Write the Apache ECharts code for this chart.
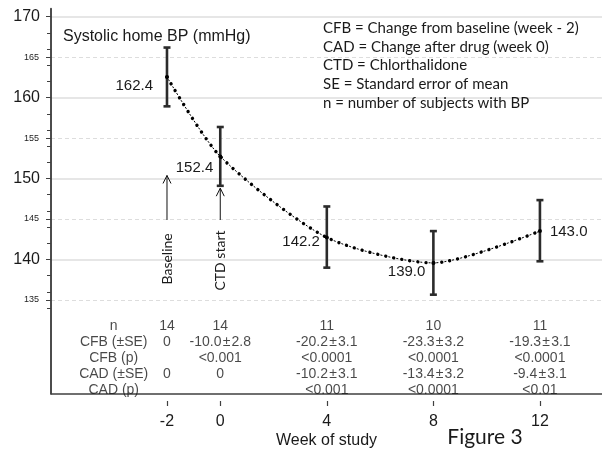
<!DOCTYPE html>
<html><head><meta charset="utf-8">
<script src="https://cdn.jsdelivr.net/npm/echarts@6.0.0/dist/echarts.min.js"></script>
<style>html,body{margin:0;padding:0;background:#fff}#c{width:602px;height:454px}</style>
</head><body><div id="c"></div>
<script>
// ---- data ----
const weeks = [-2, 0, 4, 8, 12];
const meanBP = [162.4, 152.4, 142.2, 139.0, 143.0];
const errLow = [158.7, 148.7, 138.4, 135.0, 139.2];
const errHigh = [166.1, 156.1, 146.1, 143.0, 146.9];
const xTickLabels = ['-2', '0', '4', '8', '12'];
const yMajorTicks = [140, 150, 160, 170];
const yMinorTicks = [135, 145, 155, 165];
const rowLabels = ['n', 'CFB (±SE)', 'CFB (p)', 'CAD (±SE)', 'CAD (p)'];
const nRow = ['14', '14', '11', '10', '11'];
const cfbSE = ['0', '-10.0\u200A±\u200A2.8', '-20.2\u200A±\u200A3.1', '-23.3\u200A±\u200A3.2', '-19.3\u200A±\u200A3.1'];
const cfbP = ['', '<0.001', '<0.0001', '<0.0001', '<0.0001'];
const cadSE = ['0', '0', '-10.2\u200A±\u200A3.1', '-13.4\u200A±\u200A3.2', '-9.4\u200A±\u200A3.1'];
const cadP = ['', '', '<0.001', '<0.0001', '<0.01'];
const legendLines = ['CFB = Change from baseline (week - 2)', 'CAD = Change after drug (week 0)', 'CTD = Chlorthalidone', 'SE = Standard error of mean', 'n = number of subjects with BP'];
const titleText = 'Systolic home BP (mmHg)';
const xName = 'Week of study';
const figureText = 'Figure 3';
const arrows = [{week: -2, tip: 150.0, tail: 144.4, text: 'Baseline', textAt: 139.5},
                {week: 0, tip: 148.4, tail: 144.4, text: 'CTD start', textAt: 139.3}];

// ---- layout ----
const L = 51, W = 602, H = 454;
const plotTop = 8.6, plotBottom = 401;
const yMin = 122.5, yMax = 171;
const xMin = -6.354, xMax = 14.33;
const k = (plotBottom - plotTop) / (yMax - yMin);
const py = v => plotTop + (yMax - v) * k;
const kx = (W - L) / (xMax - xMin);
const px = v => L + (v - xMin) * kx;
const vgrid = (a, b) => ({left: L, right: 0, top: py(b), height: py(a) - py(b)});
const rowLabelWeek = -4;
const labelPlace = [
  {position: 'left', distance: 12, offset: [0, 9]},
  {position: 'left', distance: 5, offset: [0, 11]},
  {position: 'left', distance: 5, offset: [0, 4.5]},
  {position: 'left', distance: 6, offset: [0, 9]},
  {position: 'right', distance: 8, offset: [0, 0.5]}
];
const AX = '#404040';
const hiddenX = i => ({type: 'value', gridIndex: i, min: xMin, max: xMax, show: false});

const xCats = [];
for (let w = weeks[0]; w <= weeks[weeks.length - 1]; w++) xCats.push(String(w));
const showTick = (idx, val) => xTickLabels.indexOf(String(val)) >= 0;

const tableRows = [nRow, cfbSE, cfbP, cadSE, cadP];
const tableData = [];
rowLabels.forEach((r, i) => tableData.push({value: [rowLabelWeek, i], text: r}));
tableRows.forEach((row, i) => row.forEach((t, j) => { if (t) tableData.push({value: [weeks[j], i], text: t}); }));

const chart = echarts.init(document.getElementById('c'), null, {renderer: 'canvas'});
const FONT = 'Liberation Sans, Arial, sans-serif';
const CAL = 'Lato, Carlito, sans-serif';

const option = {
  backgroundColor: '#fff',
  animation: false,
  textStyle: {fontFamily: FONT},
  title: {text: titleText, left: 58, top: 24, textStyle: {fontSize: 16, fontWeight: 'normal', color: '#1a1a1a', fontFamily: FONT}},
  grid: [
    {left: L, right: 0, top: plotTop, bottom: H - plotBottom},
    vgrid(134, 170),
    vgrid(yMajorTicks[0], yMajorTicks[yMajorTicks.length - 1]),
    vgrid(yMinorTicks[0], yMinorTicks[yMinorTicks.length - 1]),
    {left: px(weeks[0]), width: px(weeks[weeks.length - 1]) - px(weeks[0]), top: plotBottom - 10, height: 10},
    {left: L, right: 0, top: 318, height: 80}
  ],
  xAxis: [
    {type: 'value', gridIndex: 0, min: xMin, max: xMax, axisLine: {show: true, onZero: false, lineStyle: {color: AX, width: 1.5}},
     axisTick: {show: false}, axisLabel: {show: false}, splitLine: {show: false},
     name: xName, nameLocation: 'middle', nameGap: 39, nameTextStyle: {fontSize: 16, color: '#1a1a1a', fontFamily: FONT}},
    hiddenX(1), hiddenX(2), hiddenX(3),
    {type: 'category', gridIndex: 4, data: xCats, boundaryGap: false, axisLine: {show: false},
     axisTick: {show: true, interval: showTick, length: 5, lineStyle: {color: AX, width: 1.2}},
     axisLabel: {interval: showTick, fontSize: 16, color: '#1a1a1a', margin: 13, fontFamily: FONT}},
    hiddenX(5)
  ],
  yAxis: [
    {type: 'value', gridIndex: 0, position: 'left', min: yMin, max: yMax, axisLine: {show: true, onZero: false, lineStyle: {color: AX, width: 1.5}},
     axisTick: {show: false}, axisLabel: {show: false}, splitLine: {show: false}},
    {type: 'value', gridIndex: 1, min: 134, max: 170, interval: 2, axisLine: {show: false, onZero: false},
     axisTick: {show: true, length: 4, lineStyle: {color: AX, width: 1}}, axisLabel: {show: false}, splitLine: {show: false}},
    {type: 'value', gridIndex: 2, min: yMajorTicks[0], max: yMajorTicks[yMajorTicks.length - 1], interval: 10, axisLine: {show: false, onZero: false},
     axisTick: {show: true, length: 5, lineStyle: {color: AX, width: 1}},
     axisLabel: {fontSize: 16, color: '#1a1a1a', margin: 11, fontFamily: FONT},
     splitLine: {show: true, lineStyle: {color: '#e6e6e6', width: 2}}},
    {type: 'value', gridIndex: 3, min: yMinorTicks[0], max: yMinorTicks[yMinorTicks.length - 1], interval: 10, axisLine: {show: false, onZero: false},
     axisTick: {show: true, length: 5, lineStyle: {color: AX, width: 1}},
     axisLabel: {fontSize: 9, color: '#222', margin: 12, fontFamily: FONT},
     splitLine: {show: true, lineStyle: {color: '#dddddd', width: 1, type: [4, 3]}}},
    {type: 'value', gridIndex: 4, show: false},
    {type: 'category', gridIndex: 5, data: rowLabels, inverse: true, show: false}
  ],
  series: [
    {type: 'custom', xAxisIndex: 0, yAxisIndex: 0, z: 3, silent: true,
     data: weeks.map((w, i) => [w, errLow[i], errHigh[i]]),
     encode: {x: 0, y: [1, 2]},
     renderItem: (params, api) => {
       const lo = api.coord([api.value(0), api.value(1)]);
       const hi = api.coord([api.value(0), api.value(2)]);
       const c = 3.5;
       const st = {stroke: '#2b2b2b', lineWidth: 2.6};
       return {type: 'group', children: [
         {type: 'line', shape: {x1: lo[0], y1: lo[1], x2: hi[0], y2: hi[1]}, style: st},
         {type: 'line', shape: {x1: lo[0] - c, y1: lo[1], x2: lo[0] + c, y2: lo[1]}, style: st},
         {type: 'line', shape: {x1: hi[0] - c, y1: hi[1], x2: hi[0] + c, y2: hi[1]}, style: st}
       ]};
     }},
    {type: 'line', xAxisIndex: 0, yAxisIndex: 0, z: 4, smooth: 0.25, silent: true,
     data: weeks.map((w, i) => [w, meanBP[i]]),
     symbol: 'none', lineStyle: {color: '#000', width: 1, type: [2, 6.1], dashOffset: -3}},
    {type: 'line', xAxisIndex: 0, yAxisIndex: 0, z: 5, smooth: 0.25, silent: true,
     data: weeks.map((w, i) => ({value: [w, meanBP[i]],
       label: Object.assign({show: true, formatter: meanBP[i].toFixed(1)}, labelPlace[i])})),
     symbol: 'circle', symbolSize: 4, itemStyle: {color: '#000'},
     label: {fontSize: 15, color: '#1a1a1a', fontFamily: FONT},
     lineStyle: {color: '#000', width: 3.4, cap: 'round', type: [0.01, 8.1]}},
    {type: 'scatter', xAxisIndex: 5, yAxisIndex: 5, silent: true, symbolSize: 1,
     itemStyle: {color: 'rgba(0,0,0,0)'},
     data: tableData,
     label: {show: true, position: 'inside', formatter: p => p.data.text, fontSize: 14, color: '#1a1a1a', fontFamily: FONT}}
  ]
};
chart.setOption(option);

// annotations placed via the chart's own coordinate conversion
const g = [];
const axTop = chart.convertToPixel({gridIndex: 0}, [xMin, yMax]);
const axBot = chart.convertToPixel({gridIndex: 0}, [xMin, yMin]);
g.push({type: 'line', z: 50, shape: {x1: axTop[0], y1: axTop[1], x2: axBot[0], y2: axBot[1]}, style: {stroke: AX, lineWidth: 1.5}});
arrows.forEach(a => {
  const tip = chart.convertToPixel({gridIndex: 0}, [a.week, a.tip]);
  const tail = chart.convertToPixel({gridIndex: 0}, [a.week, a.tail]);
  const t = chart.convertToPixel({gridIndex: 0}, [a.week, a.textAt]);
  g.push({type: 'line', shape: {x1: tail[0], y1: tail[1], x2: tip[0], y2: tip[1]}, style: {stroke: '#111', lineWidth: 1}});
  g.push({type: 'polyline', shape: {points: [[tip[0] - 4, tip[1] + 8], [tip[0], tip[1]], [tip[0] + 4, tip[1] + 8]]}, style: {stroke: '#111', lineWidth: 1, fill: null}});
  g.push({type: 'text', x: t[0], y: t[1], rotation: Math.PI / 2,
    style: {text: a.text, font: '14px ' + CAL, fill: '#1a1a1a', align: 'center', verticalAlign: 'middle'}});
});
g.push({type: 'text', left: 323, top: 19, style: {text: legendLines.join('\n'), font: '15px ' + CAL, lineHeight: 18.6, fill: '#1a1a1a'}});
g.push({type: 'text', x: 485, y: 437, style: {text: figureText, font: '21px ' + CAL, fill: '#1a1a1a', align: 'center', verticalAlign: 'middle'}});
chart.setOption({graphic: g});
</script>
</body></html>
